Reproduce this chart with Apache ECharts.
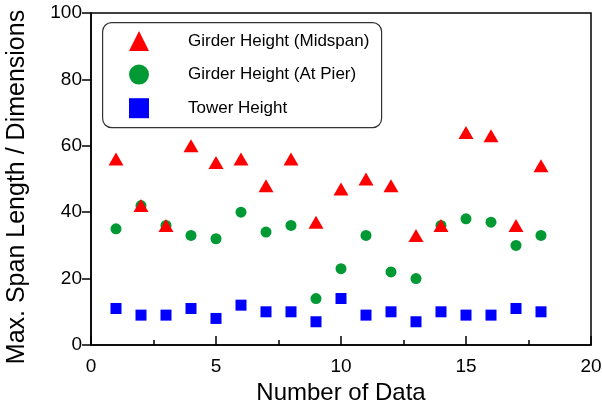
<!DOCTYPE html>
<html>
<head>
<meta charset="utf-8">
<script src="https://cdn.jsdelivr.net/npm/echarts@6/dist/echarts.min.js"></script>
<style>html,body{margin:0;padding:0;background:#fff;}#c{width:602px;height:403px;}</style>
</head>
<body>
<div id="c"></div>
<script>
var dataIndex = [1,2,3,4,5,6,7,8,9,10,11,12,13,14,15,16,17,18];
var girderMidspan = [56,42,36,60,55,56,48,56,37,47,50,48,33,36,64,63,36,54];
var girderPier = [35,42,36,33,32,40,34,36,14,23,33,22,20,36,38,37,30,33];
var towerHeight = [11,9,9,11,8,12,10,10,7,14,9,10,7,10,9,9,11,10];
var seriesNames = ['Girder Height (Midspan)', 'Girder Height (At Pier)', 'Tower Height'];
var xTicks = {min: 0, max: 20, interval: 5};
var yTicks = {min: 0, max: 100, interval: 20};

function pairs(ys) { return dataIndex.map(function (x, i) { return [x, ys[i]]; }); }

var font = 'Liberation Sans, Arial, Helvetica, sans-serif';
var chart = echarts.init(document.getElementById('c'), null, {renderer: 'canvas'});
chart.setOption({
  animation: false,
  backgroundColor: '#fff',
  grid: {left: 91, top: 13, right: 11, bottom: 58, containLabel: false, outerBoundsMode: 'none',
         show: true, borderColor: '#000', borderWidth: 1.5, backgroundColor: 'transparent'},
  graphic: [{
    type: 'rect', left: 102, top: 22, z: 10,
    shape: {width: 279, height: 105, r: 9},
    style: {fill: '#fff', stroke: '#333', lineWidth: 1.2}
  }],
  legend: {
    orient: 'vertical', left: 129, top: 31, padding: 0, z: 20,
    itemWidth: 20, itemHeight: 20, itemGap: 13.6,
    selectedMode: false,
    textStyle: {fontFamily: font, fontSize: 17, color: '#000', padding: [0, 0, 0, 34]},
    data: [
      {name: seriesNames[0], icon: 'triangle'},
      {name: seriesNames[1], icon: 'circle'},
      {name: seriesNames[2], icon: 'rect'}
    ]
  },
  xAxis: {
    type: 'value', min: xTicks.min, max: xTicks.max, interval: xTicks.interval,
    name: 'Number of Data', nameLocation: 'middle', nameGap: 33,
    nameTextStyle: {fontFamily: font, fontSize: 24, color: '#000'},
    axisLine: {show: true, lineStyle: {color: '#000', width: 1.5}},
    axisTick: {show: true, inside: true, length: 9, lineStyle: {color: '#000', width: 1.5}},
    minorTick: {show: true, splitNumber: 2, length: 5, lineStyle: {color: '#000', width: 1.5}},
    axisLabel: {fontFamily: font, fontSize: 19, color: '#000', margin: 12},
    splitLine: {show: false}
  },
  yAxis: {
    type: 'value', min: yTicks.min, max: yTicks.max, interval: yTicks.interval,
    name: 'Max. Span Length / Dimensions', nameLocation: 'middle', nameGap: 61,
    nameTextStyle: {fontFamily: font, fontSize: 25, color: '#000', padding: [0, 16, 0, 0]},
    axisLine: {show: true, lineStyle: {color: '#000', width: 1.5}},
    axisTick: {show: true, inside: false, length: 9, lineStyle: {color: '#000', width: 1.5}},
    axisLabel: {fontFamily: font, fontSize: 19, color: '#000', margin: 9},
    splitLine: {show: false}
  },
  series: [
    {name: seriesNames[0], type: 'scatter', symbol: 'triangle', symbolSize: [15, 13], z: 4,
     itemStyle: {color: '#ff0000', opacity: 1}, data: pairs(girderMidspan)},
    {name: seriesNames[1], type: 'scatter', symbol: 'circle', symbolSize: 11, z: 3,
     itemStyle: {color: '#009933', opacity: 1}, data: pairs(girderPier)},
    {name: seriesNames[2], type: 'scatter', symbol: 'rect', symbolSize: 11, z: 3,
     itemStyle: {color: '#0000ff', opacity: 1}, data: pairs(towerHeight)}
  ]
});
</script>
</body>
</html>
